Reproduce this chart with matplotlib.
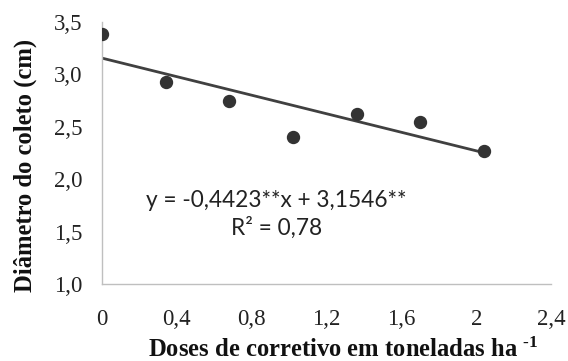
import matplotlib
matplotlib.use('Agg')
import matplotlib.pyplot as plt
import numpy as np

# dados
doses = [0, 0.34, 0.68, 1.02, 1.36, 1.70, 2.04]
diametro = [3.38, 2.93, 2.75, 2.40, 2.62, 2.55, 2.27]
a, b = -0.4423, 3.1546  # coeficientes da regressao

xticks = [0, 0.4, 0.8, 1.2, 1.6, 2.0, 2.4]
xtick_labels = ['0', '0,4', '0,8', '1,2', '1,6', '2', '2,4']
yticks = [1.0, 1.5, 2.0, 2.5, 3.0, 3.5]
ytick_labels = ['1,0', '1,5', '2,0', '2,5', '3,0', '3,5']

serif = ['Liberation Serif', 'DejaVu Serif']
plt.rcParams['mathtext.fontset'] = 'custom'
plt.rcParams['mathtext.rm'] = 'Liberation Serif:bold'
plt.rcParams['mathtext.it'] = 'Liberation Serif:bold'
plt.rcParams['mathtext.bf'] = 'Liberation Serif:bold'

fig = plt.figure(figsize=(5.68, 3.61), dpi=100)
ax = fig.add_axes([0.1796, 0.2133, 0.791, 0.726])

ax.scatter(doses, diametro, s=74, color='#333333', zorder=3)
xl = np.array([doses[0], doses[-1]])
ax.plot(xl, a * xl + b, color='#404040', lw=2.0, zorder=2)

ax.set_xlim(0, 2.4)
ax.set_ylim(1.0, 3.5)
ax.set_xticks(xticks)
ax.set_xticklabels(xtick_labels, family=serif, fontsize=16.5, color='#222222')
ax.set_yticks(yticks)
ax.set_yticklabels(ytick_labels, family=serif, fontsize=16.5, color='#222222')
ax.tick_params(axis='x', length=0, pad=18)
ax.tick_params(axis='y', length=0, pad=14)

for s in ['top', 'right']:
    ax.spines[s].set_visible(False)
for s in ['left', 'bottom']:
    ax.spines[s].set_color('#bfbfbf')
    ax.spines[s].set_linewidth(1.0)

ax.text(0.93, 1.80, 'y = -0,4423**x + 3,1546**', family='Lato', fontsize=16.3,
        ha='center', va='center', color='#222222')
ax.text(0.93, 1.54, 'R² = 0,78', family='Lato', fontsize=16.3,
        ha='center', va='center', color='#222222')

ax.set_ylabel('Diâmetro do coleto (cm)', family=serif, fontweight='bold',
              fontsize=17.7, color='#111111')
ax.yaxis.set_label_coords(-0.17, 0.454)
ax.yaxis.label.set_va('center')
ax.set_xlabel(r'Doses de corretivo em toneladas ha $^{\text{-1}}$', family=serif,
              fontweight='bold', fontsize=17.7, color='#111111')
ax.xaxis.set_label_coords(0.537, -0.252)
ax.xaxis.label.set_va('center')

fig.savefig('out.png', dpi=100)
